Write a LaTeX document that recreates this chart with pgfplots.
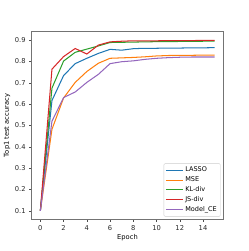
\documentclass[border=0pt]{standalone}
\usepackage{fontspec}
\setmainfont{DejaVu Sans}
\usepackage{pgfplots}
\pgfplotsset{compat=1.18}
\definecolor{c1}{HTML}{1F77B4}
\definecolor{c2}{HTML}{FF7F0E}
\definecolor{c3}{HTML}{2CA02C}
\definecolor{c4}{HTML}{D62728}
\definecolor{c5}{HTML}{9467BD}
\begin{document}
\begin{tikzpicture}
\useasboundingbox (-32pt,-32pt) rectangle (219pt,222pt);
\begin{axis}[
  at={(0,0)}, anchor=south west,
  width=194pt, height=190pt, scale only axis,
  xmin=-0.75, xmax=15.75, ymin=0.06, ymax=0.94,
  xtick={0,2,...,14}, ytick={0.1,0.2,...,0.9},
  yticklabel style={/pgf/number format/.cd,fixed,fixed zerofill,precision=1},
  /pgf/number format/assume math mode=true,
  tick label style={font=\fontsize{6.8}{8}\selectfont, text=black!85},
  label style={font=\fontsize{6.8}{8}\selectfont},
  xlabel={Epoch}, ylabel={Top1 test accuracy},
  xlabel style={yshift=3pt}, ylabel style={yshift=-2pt},
  tick align=outside, major tick length=2.5pt,
  xtick pos=bottom, ytick pos=left,
  axis line style={black!55, line width=0.7pt},
  every tick/.style={black!70, line width=0.5pt},
  legend style={font=\fontsize{6.6}{8}\selectfont, draw=black!20, rounded corners=1pt, inner sep=1.5pt, row sep=-0.5pt, at={(0.985,0.015)}, anchor=south east},
  legend cell align=left,
  every axis plot/.append style={line width=1.05pt},
]
\addplot[c1] coordinates {(0,0.1)(1,0.617)(2,0.734)(3,0.79)(4,0.815)(5,0.838)(6,0.857)(7,0.853)(8,0.86)(9,0.862)(10,0.862)(11,0.863)(12,0.863)(13,0.864)(14,0.864)(15,0.865)};
\addlegendentry{LASSO}
\addplot[c2] coordinates {(0,0.1)(1,0.482)(2,0.629)(3,0.702)(4,0.753)(5,0.792)(6,0.815)(7,0.817)(8,0.819)(9,0.822)(10,0.826)(11,0.828)(12,0.829)(13,0.829)(14,0.83)(15,0.83)};
\addlegendentry{MSE}
\addplot[c3] coordinates {(0,0.1)(1,0.675)(2,0.802)(3,0.843)(4,0.858)(5,0.873)(6,0.889)(7,0.89)(8,0.891)(9,0.892)(10,0.893)(11,0.893)(12,0.894)(13,0.894)(14,0.895)(15,0.895)};
\addlegendentry{KL-div}
\addplot[c4] coordinates {(0,0.1)(1,0.764)(2,0.823)(3,0.861)(4,0.835)(5,0.877)(6,0.892)(7,0.895)(8,0.897)(9,0.897)(10,0.897)(11,0.898)(12,0.898)(13,0.898)(14,0.899)(15,0.899)};
\addlegendentry{JS-div}
\addplot[c5] coordinates {(0,0.1)(1,0.52)(2,0.631)(3,0.657)(4,0.702)(5,0.74)(6,0.79)(7,0.799)(8,0.803)(9,0.81)(10,0.815)(11,0.818)(12,0.82)(13,0.821)(14,0.821)(15,0.821)};
\addlegendentry{Model\_CE}
\end{axis}
\end{tikzpicture}
\end{document}
